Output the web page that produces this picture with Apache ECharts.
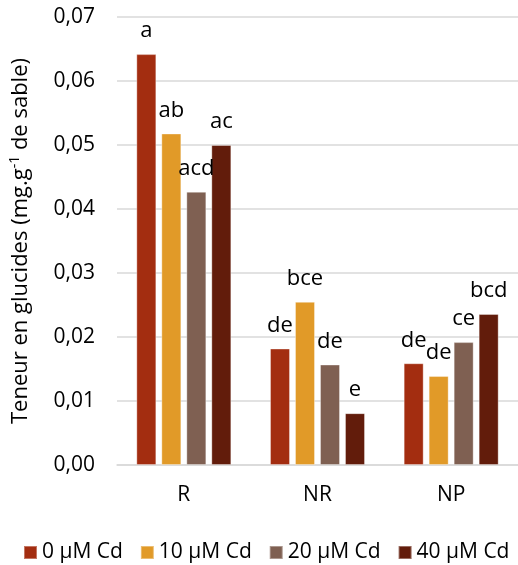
<!DOCTYPE html>
<html>
<head>
<meta charset="utf-8">
<script src="https://cdn.jsdelivr.net/npm/echarts@6/dist/echarts.min.js"></script>
<style>html,body{margin:0;padding:0;background:#fff;}#c{width:518px;height:565px;}</style>
</head>
<body>
<div id="c"></div>
<script>
var categories = ['R', 'NR', 'NP'];
var seriesNames = ['0 µM Cd', '10 µM Cd', '20 µM Cd', '40 µM Cd'];
var values0 = [0.0642, 0.0182, 0.0159];
var values10 = [0.0518, 0.0255, 0.0139];
var values20 = [0.0427, 0.0157, 0.0192];
var values40 = [0.0500, 0.0081, 0.0236];
var letters0 = ['a', 'de', 'de'];
var letters10 = ['ab', 'bce', 'de'];
var letters20 = ['acd', 'de', 'ce'];
var letters40 = ['ac', 'e', 'bcd'];
var colors = ['#A32D10', '#E19A28', '#7F6052', '#621C0B'];
var yTicks = {min: 0, max: 0.07, interval: 0.01};

var FONT = 'Open Sans';
var allValues = [values0, values10, values20, values40];
var allLetters = [letters0, letters10, letters20, letters40];

var series = allValues.map(function (vals, i) {
  return {
    name: seriesNames[i],
    type: 'bar',
    data: vals,
    barWidth: 20,
    barGap: '25%',
    itemStyle: {color: colors[i], borderColor: 'rgba(255,255,255,0.35)', borderWidth: 1},
    label: {
      show: true,
      position: 'top',
      distance: 12,
      fontFamily: FONT,
      fontSize: 22,
      color: '#000',
      formatter: function (p) { return allLetters[i][p.dataIndex]; }
    }
  };
});

var chart = echarts.init(document.getElementById('c'));
chart.setOption({
  animation: false,
  textStyle: {fontFamily: FONT},
  color: colors,
  grid: {left: 115, top: 17, width: 408, bottom: 100, containLabel: false},
  legend: {
    data: seriesNames,
    left: 23,
    top: 542,
    width: 495,
    padding: 0,
    itemWidth: 13,
    itemHeight: 13,
    itemGap: 17,
    icon: 'rect',
    textStyle: {fontFamily: FONT, fontSize: 21, color: '#000'}
  },
  xAxis: {
    type: 'category',
    data: categories,
    axisLine: {lineStyle: {color: '#D9D9D9', width: 1.5}},
    axisTick: {show: false},
    axisLabel: {fontFamily: FONT, fontSize: 21, color: '#000', margin: 20}
  },
  yAxis: {
    type: 'value',
    min: yTicks.min,
    max: yTicks.max,
    interval: yTicks.interval,
    name: 'Teneur en glucides (mg.g{sup|-1} de sable)',
    nameLocation: 'middle',
    nameRotate: 90,
    nameGap: 84,
    nameTextStyle: {
      fontFamily: FONT, fontSize: 22, color: '#000',
      rich: {sup: {fontFamily: FONT, fontSize: 14, color: '#000', verticalAlign: 'top', padding: [0, 0, 11, 0]}}
    },
    axisLine: {show: false},
    axisTick: {show: false},
    splitLine: {lineStyle: {color: '#D9D9D9', width: 1.5}},
    axisLabel: {
      fontFamily: FONT, fontSize: 21, color: '#000', margin: 22,
      formatter: function (v) { return v.toFixed(2).replace('.', ','); }
    }
  },
  series: series
});
</script>
</body>
</html>
